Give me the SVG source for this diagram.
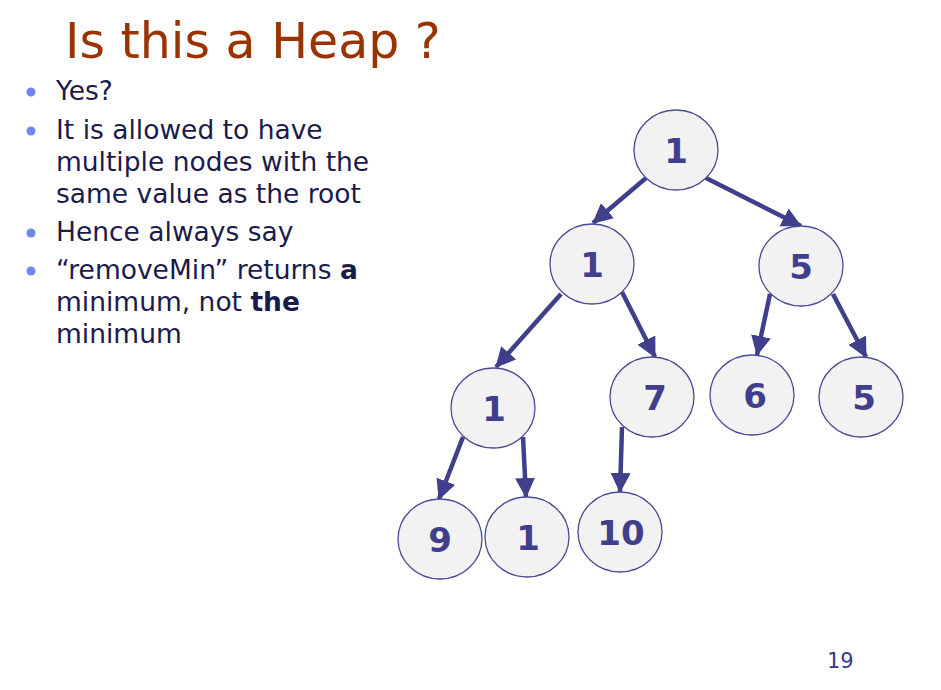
<svg xmlns="http://www.w3.org/2000/svg" width="941" height="690" viewBox="0 0 941 690">
  <style>
    .title { font-family: "DejaVu Sans", Verdana, sans-serif; font-size: 49px; fill: #993300; }
    .body { font-family: "DejaVu Sans", Verdana, sans-serif; font-size: 26.5px; fill: #1b1b4b; }
    .bullet { fill: #7088ee; }
    .node ellipse { fill: #f2f2f2; stroke: #4a4a96; stroke-width: 1.3; }
    .node text { font-family: "DejaVu Sans", Verdana, sans-serif; font-size: 34px; font-weight: bold; fill: #3f3f8c; text-anchor: middle; }
    .edge { stroke: #3f3f8c; stroke-width: 4.5; fill: none; marker-end: url(#head); }
    .pagenum { font-family: "DejaVu Sans", Verdana, sans-serif; font-size: 21px; fill: #3a3a8a; }
  </style>
  <defs>
    <marker id="head" markerUnits="userSpaceOnUse" markerWidth="20" markerHeight="20" refX="19" refY="10" orient="auto" viewBox="0 0 20 20">
      <path d="M0,0 L20,10 L0,20 Z" fill="#3f3f8c"/>
    </marker>
  </defs>

  <rect width="941" height="690" fill="#ffffff"/>

  <!-- heading -->
  <text class="title" x="65" y="58">Is this a Heap ?</text>

  <!-- bullet list -->
  <g id="bullets">
    <circle class="bullet" cx="31" cy="92" r="4.5"/>
    <circle class="bullet" cx="31" cy="131" r="4.5"/>
    <circle class="bullet" cx="31" cy="233" r="4.5"/>
    <circle class="bullet" cx="31" cy="271" r="4.5"/>
    <text class="body" x="56" y="100">Yes?</text>
    <text class="body" x="56" y="139">It is allowed to have</text>
    <text class="body" x="56" y="171">multiple nodes with the</text>
    <text class="body" x="56" y="203">same value as the root</text>
    <text class="body" x="56" y="241">Hence always say</text>
    <text class="body" x="56" y="279">“removeMin” returns <tspan font-weight="bold">a</tspan></text>
    <text class="body" x="56" y="311">minimum, not <tspan font-weight="bold">the</tspan></text>
    <text class="body" x="56" y="343">minimum</text>
  </g>

  <!-- tree edges -->
  <g id="connectors">
    <line class="edge" x1="646" y1="178" x2="593" y2="223"/>
    <line class="edge" x1="706" y1="178" x2="801" y2="226"/>
    <line class="edge" x1="561" y1="294" x2="496" y2="367"/>
    <line class="edge" x1="622" y1="292" x2="655" y2="357"/>
    <line class="edge" x1="770" y1="294" x2="757" y2="355"/>
    <line class="edge" x1="833" y1="294" x2="866" y2="357"/>
    <line class="edge" x1="463" y1="437" x2="439" y2="499"/>
    <line class="edge" x1="523" y1="437" x2="526" y2="497"/>
    <line class="edge" x1="622" y1="427" x2="620" y2="492"/>
  </g>

  <!-- tree nodes -->
  <g id="n-root" class="node"><ellipse cx="676" cy="150" rx="42" ry="40"/><text x="676" y="163">1</text></g>
  <g id="n-l" class="node"><ellipse cx="592" cy="264" rx="42" ry="40"/><text x="592" y="277">1</text></g>
  <g id="n-r" class="node"><ellipse cx="801" cy="266" rx="42" ry="40"/><text x="801" y="279">5</text></g>
  <g id="n-ll" class="node"><ellipse cx="493" cy="408" rx="42" ry="40"/><text x="494" y="421">1</text></g>
  <g id="n-lr" class="node"><ellipse cx="652" cy="397" rx="42" ry="40"/><text x="655" y="410">7</text></g>
  <g id="n-rl" class="node"><ellipse cx="752" cy="395" rx="42" ry="40"/><text x="755" y="408">6</text></g>
  <g id="n-rr" class="node"><ellipse cx="861" cy="397" rx="42" ry="40"/><text x="864" y="410">5</text></g>
  <g id="n-lll" class="node"><ellipse cx="440" cy="539" rx="42" ry="40"/><text x="440" y="552">9</text></g>
  <g id="n-llr" class="node"><ellipse cx="527" cy="537" rx="42" ry="40"/><text x="528" y="550">1</text></g>
  <g id="n-lrl" class="node"><ellipse cx="620" cy="532" rx="42" ry="40"/><text x="621" y="545">10</text></g>

  <text class="pagenum" x="827" y="668">19</text>
</svg>
